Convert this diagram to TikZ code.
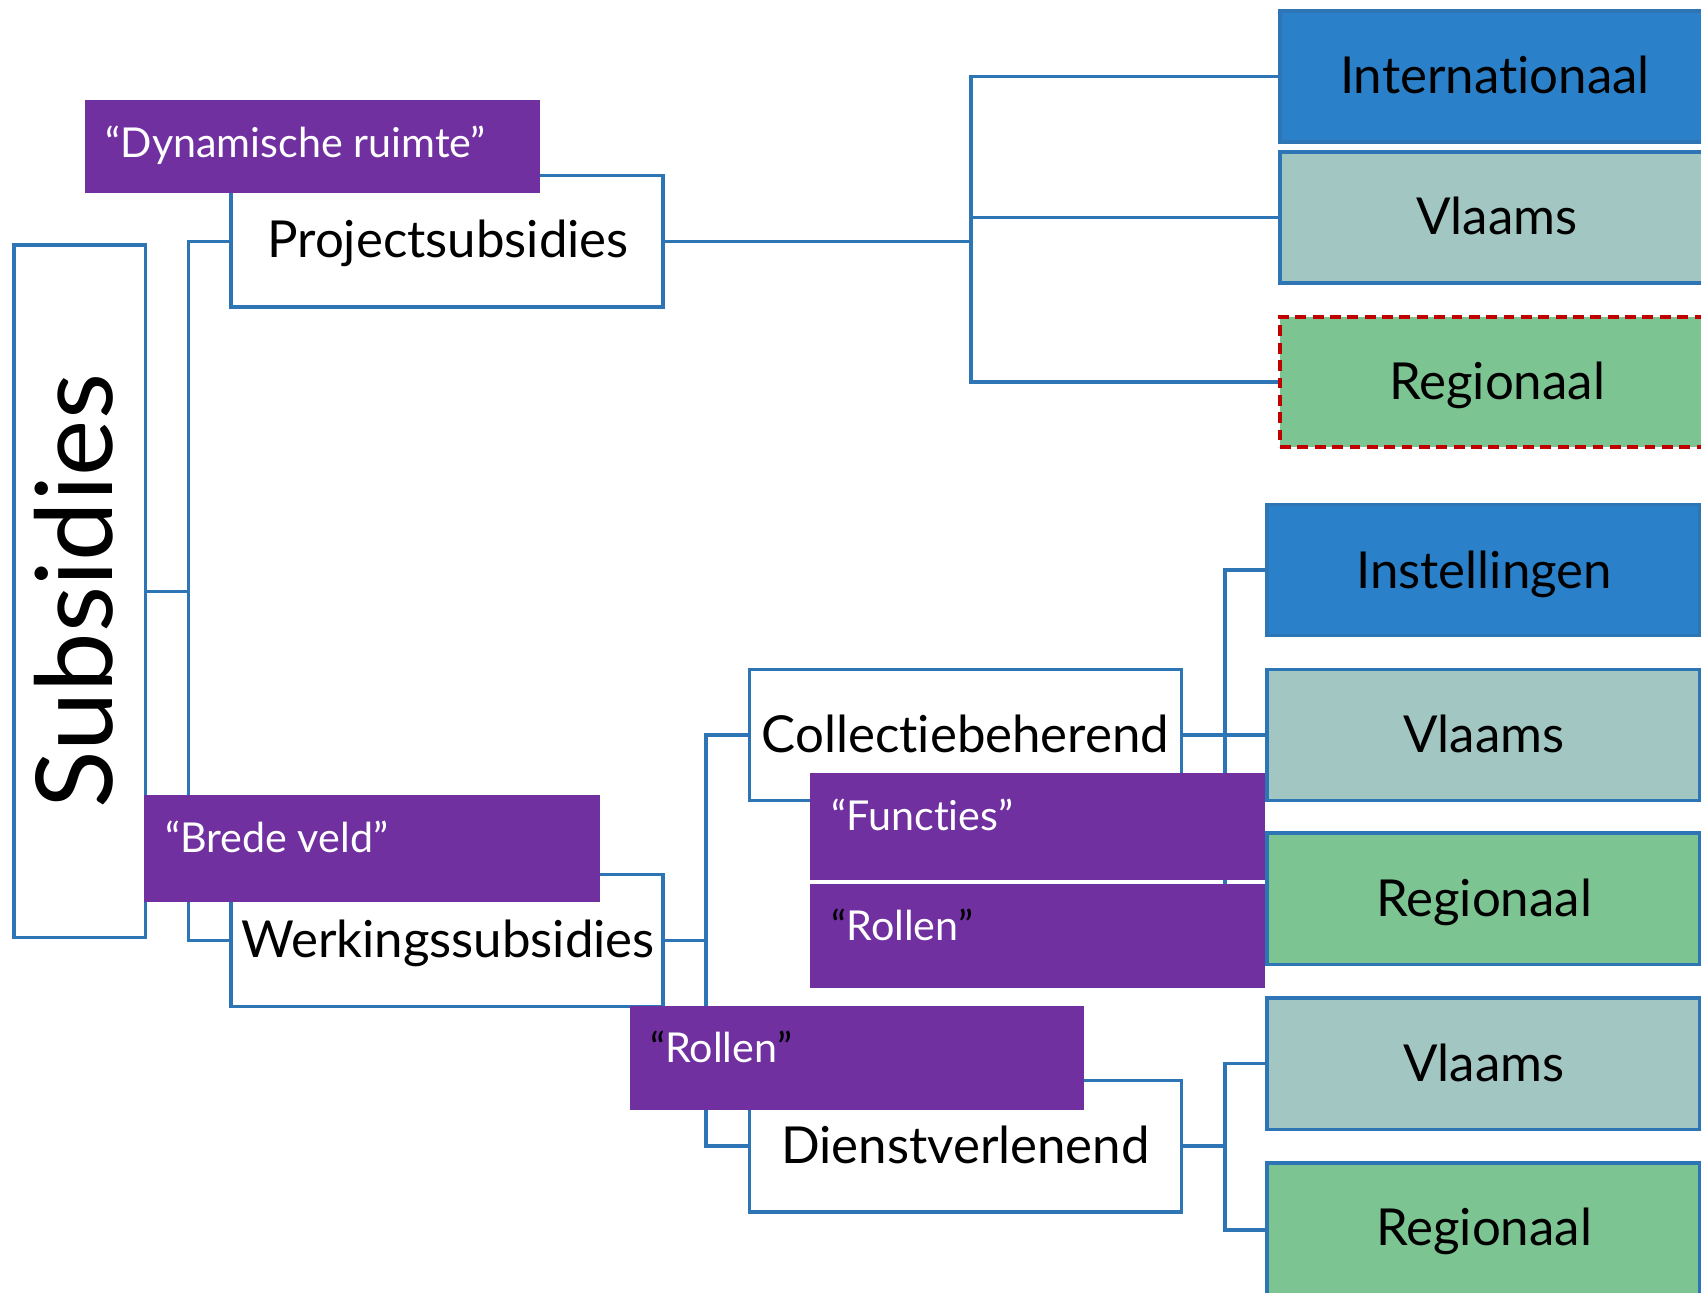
\documentclass[tikz,border=0pt]{standalone}
\usepackage{fontspec}
\setmainfont{Lato}[Ligatures={NoCommon}]
\usetikzlibrary{fit}
\definecolor{lineblue}{HTML}{2E75B6}
\definecolor{purp}{HTML}{7030A0}
\definecolor{intlblue}{HTML}{2A81C9}
\definecolor{vlteal}{HTML}{A2C7C3}
\definecolor{reggreen}{HTML}{7DC493}
\definecolor{dashred}{HTML}{C00000}
\newcommand\boxfnt{\fontsize{23.5}{28}\selectfont}
\newcommand\purpfnt{\fontsize{19}{23}\selectfont}
\newcommand\bigfnt{\fontsize{49}{58}\selectfont}
\pgfdeclarelayer{background}
\pgfdeclarelayer{foreground}
\pgfsetlayers{background,main,foreground}
\tikzset{
  conn/.style={draw=lineblue, line width=1.6pt},
  wbox/.style={draw=lineblue, line width=1.6pt, fill=white, inner sep=0pt},
  cbox/.style={draw=lineblue, line width=1.6pt, fill=#1, inner sep=0pt},
  dbox/.style={draw=dashred, dash pattern=on 5pt off 3pt, line width=1.6pt, fill=reggreen, inner sep=0pt},
  btext/.style={font=\boxfnt, text=black, inner sep=0pt, text height=1.42ex, text depth=0pt, yshift=-4.5pt},
  pbox/.style={fill=purp, inner sep=0pt},
  ptext/.style={anchor=west, text=white, font=\purpfnt, inner sep=0pt, text height=1.42ex, text depth=0pt, yshift=-3.5pt},
}
\begin{document}
\begin{tikzpicture}[x=0.5pt,y=-0.5pt]
\useasboundingbox (0,0) rectangle (1568,1191);
\clip (0,0) rectangle (1568,1191);

% left column
\node[wbox, fit={(13,226)(134,864)}] (subs) {};
\node[rotate=90, font=\bigfnt, inner sep=0pt] (subst) at (68,545) {Subsidies};

\node[wbox, fit={(213,162)(611,283)}] (proj) {};
\node[btext] (tproj) at (413,221) {Projectsubsidies};
\node[wbox, fit={(213,806)(611,928)}] (werk) {};
\node[btext] (twerk) at (413,866) {Werkingssubsidies};

% top right group
\node[cbox=intlblue, fit={(1180,10)(1578,131)}] (intl) {};
\node[btext] (tintl) at (1378,70) {Internationaal};
\node[cbox=vlteal, fit={(1180,140)(1580,261)}] (vla1) {};
\node[btext] (tvla1) at (1380,200) {Vlaams};
\node[dbox, fit={(1180,292)(1580,412)}] (reg1) {};
\node[btext] (treg1) at (1380,352) {Regionaal};

% middle
\node[wbox, fit={(691,617)(1089,738)}] (coll) {};
\node[btext] (tcoll) at (890,677) {Collectiebeherend};
\node[wbox, fit={(691,996)(1089,1117)}] (dien) {};
\node[btext] (tdien) at (890,1056) {Dienstverlenend};

\node[cbox=intlblue, fit={(1168,465)(1567,586)}] (inst) {};
\node[btext] (tinst) at (1368,526) {Instellingen};
\node[cbox=vlteal, fit={(1168,617)(1567,738)}] (vla2) {};
\node[btext] (tvla2) at (1368,677) {Vlaams};
\node[cbox=reggreen, fit={(1168,768)(1567,889)}] (reg2) {};
\node[btext] (treg2) at (1368,829) {Regionaal};
\node[cbox=vlteal, fit={(1168,920)(1567,1041)}] (vla3) {};
\node[btext] (tvla3) at (1368,981) {Vlaams};
\node[cbox=reggreen, fit={(1168,1072)(1567,1196)}] (reg3) {};
\node[btext] (treg3) at (1368,1132) {Regionaal};

% junction coordinates
\coordinate (j1) at (174,545);
\coordinate (j2) at (895,222);
\coordinate (j3) at (651,867);
\coordinate (j4) at (1129,677);
\coordinate (j5) at (1129,1056);

\begin{pgfonlayer}{background}
\fill[white] (0,0) rectangle (1568,1191);
\draw[conn] (subs.east) -- (j1);
\draw[conn] (proj.west) -| (j1) |- (werk.west);
\draw[conn] (proj.east) -- (proj.east -| j2);
\draw[conn] (intl.west) -| (j2) |- (reg1.west);
\draw[conn] (vla1.west) -- (vla1.west -| j2);
\draw[conn] (werk.east) -- (werk.east -| j3);
\draw[conn] (coll.west) -| (j3) |- (dien.west);
\draw[conn] (coll.east) -- (vla2.west);
\draw[conn] (inst.west) -| (j4) |- (reg2.west);
\draw[conn] (dien.east) -- (dien.east -| j5);
\draw[conn] (vla3.west) -| (j5) |- (reg3.west);
\end{pgfonlayer}

\begin{pgfonlayer}{foreground}
\node[pbox, fit={(78,92)(498,178)}] (pdyn) {};
\node[ptext] (tdyn) at (97,131) {“Dynamische ruimte”};
\node[pbox, fit={(133,733)(553,831)}] (pbre) {};
\node[ptext] (tbre) at (152,772) {“Brede veld”};
\node[pbox, fit={(747,713)(1166,811)}] (pfun) {};
\node[ptext] (tfun) at (766,751) {“Functies”};
\node[pbox, fit={(747,815)(1166,911)}] (prol1) {};
\node[ptext] (trol1) at (766,853) {\textcolor{black}{“}Rollen\textcolor{black}{”}};
\node[pbox, fit={(581,927)(999,1023)}] (prol2) {};
\node[ptext] (trol2) at (599,965) {\textcolor{black}{“}Rollen\textcolor{black}{”}};
\end{pgfonlayer}
\end{tikzpicture}
\end{document}
